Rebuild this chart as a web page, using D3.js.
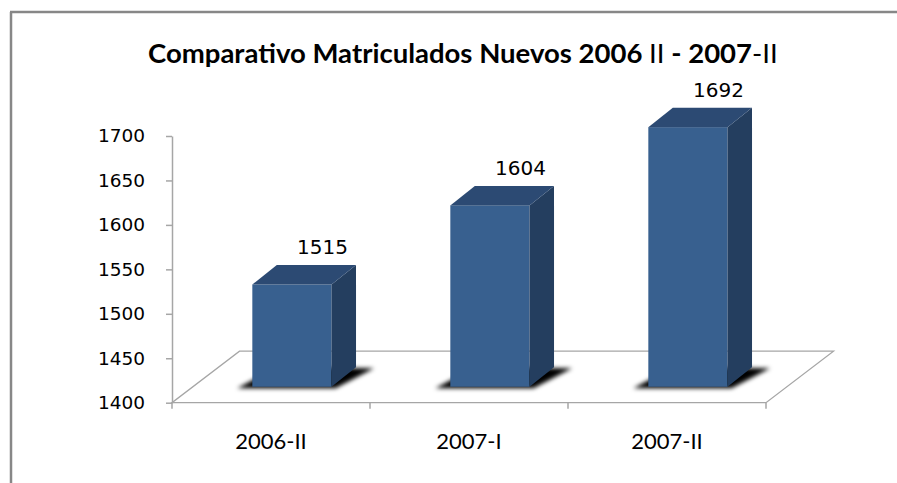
<!DOCTYPE html>
<html>
<head>
<meta charset="utf-8">
<script src="https://cdn.jsdelivr.net/npm/d3@7"></script>
<style>
  body { margin: 0; background: #fff; }
  svg { display: block; }
</style>
</head>
<body>
<div id="chart"></div>
<script>
const categories = ["2006-II", "2007-I", "2007-II"];
const values = [1515, 1604, 1692];
const yTicks = [1400, 1450, 1500, 1550, 1600, 1650, 1700];
const titleParts = [
  { t: "Comparativo Matriculados Nuevos 2006 ", bold: true },
  { t: "II", bold: false },
  { t: " - 2007", bold: true },
  { t: "-II", bold: false }
];

const W = 897, H = 483;
const floorDepth = { x: 67.5, y: -51.5 },   // floor depth vector
      barStart = 0.31,                      // where the bar front sits in the depth
      barDepth = { x: 24.5, y: -19.5 };      // bar depth vector

const svg = d3.select("#chart").append("svg")
    .attr("width", W)
    .attr("height", H);

const defs = svg.append("defs");
defs.append("filter").attr("id", "shadow")
    .attr("x", "-50%").attr("y", "-50%").attr("width", "200%").attr("height", "200%")
  .append("feGaussianBlur").attr("stdDeviation", 2.2);

// frame (left and top only visible)
svg.append("line").attr("x1", 11).attr("x2", 11).attr("y1", 12).attr("y2", H)
    .attr("stroke", "#878787").attr("stroke-width", 2.5);
svg.append("line").attr("x1", 10).attr("x2", W).attr("y1", 12).attr("y2", 12)
    .attr("stroke", "#878787").attr("stroke-width", 2.5);

const x = d3.scaleBand().domain(categories).range([172, 766]).padding(0);
const y = d3.scaleLinear().domain([1400, 1700]).range([402.7, 136]);
const barW = x.bandwidth() / 2.5;

// floor
const y0 = y(1400), xl = x.range()[0], xr = x.range()[1];
const floorPts = [
  [xl, y0], [xr, y0],
  [xr + floorDepth.x, y0 + floorDepth.y], [xl + floorDepth.x, y0 + floorDepth.y]
];
svg.append("polygon")
    .attr("points", floorPts.map(p => p.join(",")).join(" "))
    .attr("fill", "#fff")
    .attr("stroke", "#a6a6a6")
    .attr("stroke-width", 1.3);

// y axis
const yAxis = svg.append("g")
    .attr("transform", "translate(" + xl + ",0)")
    .call(d3.axisLeft(y).tickValues(yTicks).tickFormat(d3.format("d"))
      .tickSize(6).tickSizeOuter(0).tickPadding(21));
yAxis.select(".domain").attr("stroke", "#a6a6a6").attr("stroke-width", 1.5);
yAxis.selectAll(".tick line").attr("stroke", "#a6a6a6").attr("stroke-width", 1.5);
yAxis.selectAll(".tick text")
    .style("font-family", "DejaVu Sans, Verdana, sans-serif")
    .style("font-size", "18.5px")
    .attr("fill", "#000");

// category boundary ticks on the front floor edge
const bounds = categories.map(c => x(c)).concat([xr]);
svg.selectAll(".xtick").data(bounds).enter().append("line")
    .attr("class", "xtick")
    .attr("x1", d => d).attr("x2", d => d)
    .attr("y1", y0).attr("y2", y0 + 6)
    .attr("stroke", "#a6a6a6").attr("stroke-width", 1.5);

// category labels
const xAxis = svg.append("g")
    .attr("transform", "translate(0," + y0 + ")")
    .call(d3.axisBottom(x).tickSize(0).tickPadding(31));
xAxis.select(".domain").remove();
xAxis.selectAll(".tick text")
    .style("font-family", "Lato, 'Open Sans', sans-serif")
    .style("font-size", "22px")
    .attr("fill", "#000");

// bars
const bars = categories.map((c, i) => {
  const bx = x(c) + x.bandwidth() / 2 - barW / 2 + floorDepth.x * barStart;
  const by = y0 + floorDepth.y * barStart;
  const top = y(values[i]) + floorDepth.y * barStart;
  return { c: c, v: values[i], bx: bx, by: by, top: top };
});

const pts = a => a.map(p => p.join(",")).join(" ");

const g = svg.selectAll(".bar").data(bars).enter().append("g").attr("class", "bar");

g.append("polygon")
    .attr("points", d => pts([
      [d.bx - 15, d.by + 1.5], [d.bx + barW + 4, d.by + 1.5],
      [d.bx + barW + barDepth.x + 18, d.by + barDepth.y + 1],
      [d.bx + barDepth.x, d.by + barDepth.y]
    ]))
    .attr("fill", "#000")
    .attr("filter", "url(#shadow)");

// front
g.append("rect")
    .attr("x", d => d.bx)
    .attr("y", d => d.top)
    .attr("width", barW)
    .attr("height", d => d.by - d.top)
    .attr("fill", "#38608f");

// side
g.append("polygon")
    .attr("points", d => pts([
      [d.bx + barW, d.top], [d.bx + barW + barDepth.x, d.top + barDepth.y],
      [d.bx + barW + barDepth.x, d.by + barDepth.y], [d.bx + barW, d.by]
    ]))
    .attr("fill", "#243e5f");

// top
g.append("polygon")
    .attr("points", d => pts([
      [d.bx, d.top], [d.bx + barW, d.top],
      [d.bx + barW + barDepth.x, d.top + barDepth.y], [d.bx + barDepth.x, d.top + barDepth.y]
    ]))
    .attr("fill", "#2c4a73");

// value labels
g.append("text")
    .attr("x", d => d.bx + barW / 2 + barDepth.x + 6)
    .attr("y", d => d.top + barDepth.y - 11)
    .attr("text-anchor", "middle")
    .style("font-family", "DejaVu Sans, Verdana, sans-serif")
    .style("font-size", "20px")
    .attr("fill", "#000")
    .text(d => d.v);

// title
const title = svg.append("text")
    .attr("x", 0).attr("y", 0)
    .style("font-family", "Lato, 'Open Sans', sans-serif")
    .style("font-size", "27px")
    .attr("fill", "#000");
title.selectAll("tspan").data(titleParts).enter().append("tspan")
    .style("font-weight", d => d.bold ? "bold" : "normal")
    .text(d => d.t);
const tw = title.node().getComputedTextLength();
title.attr("transform", "translate(148,63) scale(" + (630 / tw) + ",1)");
</script>
</body>
</html>
